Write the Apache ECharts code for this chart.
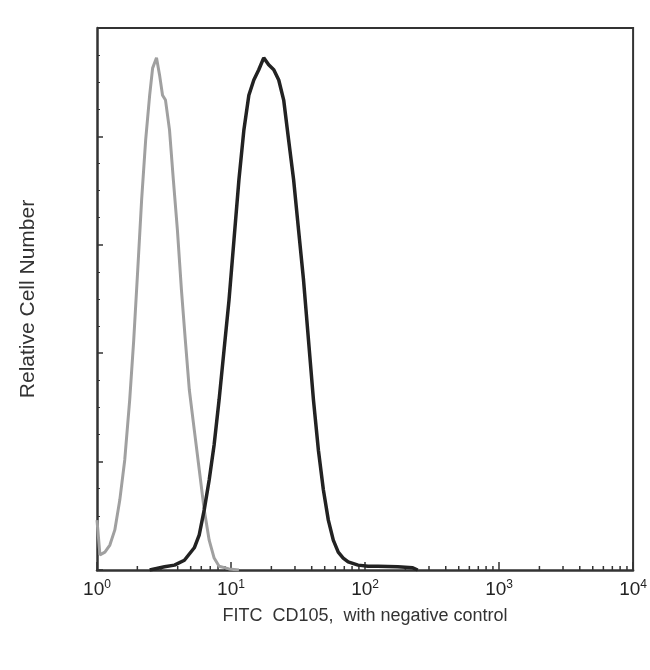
<!DOCTYPE html>
<html><head><meta charset="utf-8">
<script src="https://cdn.jsdelivr.net/npm/echarts@6/dist/echarts.min.js"></script>
<style>html,body{margin:0;padding:0;background:#fff}#c{width:650px;height:670px}</style>
</head><body><div id="c"></div>
<script>
// x in decades (log10 of FITC intensity), y relative cell number (%)
const grayX = [0,.022,.059,.096,.133,.170,.207,.244,.274,.304,.333,.363,.393,.415,.444,.467,.489,.511,.541,.570,.600,.630,.659,.689,.726,.763,.800,.837,.874,.911,.985,1.059];
const grayY = [9.2,2.8,3.3,4.6,7.4,12.9,20.3,31.4,42.4,55.4,68.3,79.3,87.6,92.6,94.5,91.3,87.6,86.7,81.2,71.9,62.7,51.7,42.4,33.2,25.8,18.5,11.1,5.5,2.2,0.7,0.2,0];
const blackX = [.393,.504,.578,.652,.726,.763,.800,.837,.874,.911,.948,.985,1.022,1.059,1.096,1.133,1.170,1.207,1.244,1.281,1.319,1.356,1.393,1.430,1.467,1.504,1.541,1.578,1.615,1.652,1.689,1.726,1.763,1.800,1.837,1.874,1.948,2.022,2.096,2.244,2.356,2.393];
const blackY = [0,0.6,0.9,1.8,4.1,6.5,11.1,16.6,23.1,31.4,40.6,49.8,60.9,72.0,81.2,87.6,90.4,92.3,94.5,93.2,92.3,90.4,86.7,79.3,72.0,62.7,53.5,42.4,31.4,22.1,14.8,9.2,5.5,3.3,2.2,1.5,0.9,0.7,0.7,0.6,0.4,0];
const decadeLabels = ['0','1','2','3','4'];
const minorMult = [2,3,4,5,6,7,8,9];

const minorTicks = [];
for (let d = 0; d < 4; d++) for (const m of minorMult) minorTicks.push([d + Math.log10(m), 0]);

const chart = echarts.init(document.getElementById('c'));
chart.setOption({
  animation:false,
  grid:{left:97,right:13,top:28,bottom:100},
  xAxis:{type:'value',min:0,max:4,interval:1,
    axisLine:{lineStyle:{color:'#333',width:2.5}},
    axisTick:{inside:true,length:8,lineStyle:{color:'#333',width:1.5}},
    splitLine:{show:false},
    axisLabel:{margin:9,color:'#222',fontFamily:'Liberation Sans',
      formatter:v=>'{b|10}{s|'+decadeLabels[Math.round(v)]+'}',
      rich:{b:{fontSize:19,fontFamily:'Liberation Sans',color:'#222'},s:{fontSize:12,fontFamily:'Liberation Sans',color:'#222',verticalAlign:'top',padding:[0,0,9,0]}}},
    name:'FITC  CD105,  with negative control',nameLocation:'middle',nameGap:37,
    nameTextStyle:{fontSize:18,color:'#333',fontFamily:'Liberation Sans'}},
  yAxis:{type:'value',min:0,max:100,interval:20,
    axisLine:{show:true,lineStyle:{color:'#333',width:2.5}},
    axisTick:{inside:true,length:6,lineStyle:{color:'#333',width:1.5}},
    minorTick:{show:true,splitNumber:4,length:3,lineStyle:{color:'#333'}},
    axisLabel:{show:false},splitLine:{show:false},
    name:'Relative Cell Number',nameLocation:'middle',nameGap:58,
    nameTextStyle:{fontSize:21,color:'#333',fontFamily:'Liberation Sans'}},
  series:[
    {type:'line',data:grayX.map((x,i)=>[x,grayY[i]]),symbol:'none',
      lineStyle:{color:'#a0a0a0',width:3}},
    {type:'line',data:blackX.map((x,i)=>[x,blackY[i]]),symbol:'none',
      lineStyle:{color:'#222',width:3.5}},
    {type:'custom',data:minorTicks,renderItem:(p,api)=>{
      const pt=api.coord([api.value(0),0]);
      return {type:'line',shape:{x1:pt[0],y1:pt[1],x2:pt[0],y2:pt[1]-4},style:{stroke:'#333',lineWidth:1.5}};
    },silent:true},
    {type:'custom',data:[[0]],renderItem:(p,api)=>{
      const c=p.coordSys;
      return {type:'polyline',shape:{points:[[c.x,c.y],[c.x+c.width,c.y],[c.x+c.width,c.y+c.height]]},style:{stroke:'#333',lineWidth:2,fill:null}};
    },silent:true}
  ]
});
</script></body></html>
